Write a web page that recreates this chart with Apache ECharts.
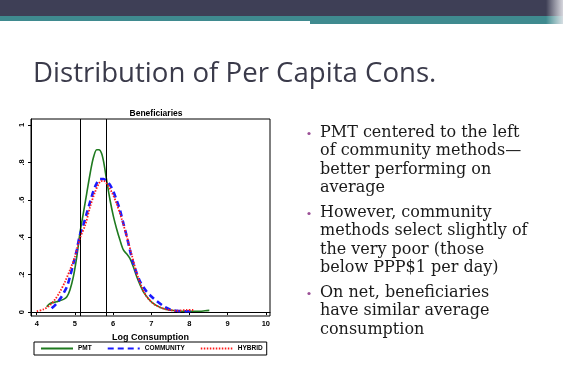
<!DOCTYPE html>
<html>
<head>
<meta charset="utf-8">
<script src="https://cdn.jsdelivr.net/npm/echarts@6/dist/echarts.min.js"></script>
<style>
html,body{margin:0;padding:0;background:#fff;}
#c{width:563px;height:373px;}
</style>
</head>
<body>
<div id="c"></div>
<script>
// ---- data ----
const xTicks = [4, 5, 6, 7, 8, 9, 10];
const yTicks = [0, 0.2, 0.4, 0.6, 0.8, 1];
const povertyLines = [5.13, 5.81];

const pmtX = [4.26,4.35,4.52,4.70,4.79,4.87,4.96,5.05,5.13,5.22,5.31,5.40,5.48,5.57,5.63,5.70,5.76,5.83,5.92,6.01,6.09,6.18,6.27,6.36,6.44,6.53,6.62,6.71,6.79,6.92,7.05,7.23,7.40,7.66,7.93,8.28,8.41,8.52];
const pmtY = [0.029,0.046,0.055,0.068,0.082,0.118,0.189,0.296,0.42,0.528,0.635,0.742,0.822,0.868,0.868,0.848,0.795,0.706,0.599,0.51,0.447,0.385,0.332,0.31,0.287,0.242,0.189,0.144,0.109,0.073,0.046,0.025,0.014,0.007,0.004,0.004,0.007,0.009];

const comX = [4.39,4.52,4.65,4.79,4.87,4.96,5.05,5.13,5.22,5.31,5.40,5.48,5.57,5.66,5.75,5.83,5.92,6.01,6.09,6.18,6.27,6.36,6.44,6.53,6.62,6.71,6.79,6.88,7.01,7.14,7.32,7.49,7.66,7.93,8.10];
const comY = [0.02,0.046,0.082,0.135,0.189,0.26,0.332,0.412,0.465,0.528,0.59,0.643,0.688,0.711,0.711,0.70,0.679,0.643,0.599,0.545,0.474,0.403,0.332,0.26,0.207,0.162,0.135,0.109,0.082,0.059,0.032,0.014,0.007,0.004,0.005];

const hybX = [4.00,4.17,4.35,4.48,4.61,4.74,4.87,5.00,5.13,5.27,5.40,5.53,5.66,5.75,5.83,5.96,6.09,6.22,6.36,6.49,6.62,6.75,6.88,7.05,7.23,7.40,7.66,7.93,8.10];
const hybY = [0.005,0.014,0.037,0.068,0.109,0.162,0.225,0.296,0.394,0.465,0.563,0.643,0.697,0.702,0.688,0.643,0.581,0.501,0.403,0.305,0.207,0.135,0.082,0.046,0.025,0.014,0.007,0.011,0.011];

const seriesNames = ['PMT', 'COMMUNITY', 'HYBRID'];
const slideTitle = 'Distribution of Per Capita Cons.';
const chartTitle = 'Beneficiaries';
const xAxisTitle = 'Log Consumption';
const bullets = [
  ['PMT centered to the left', 'of community methods\u2014', 'better performing on', 'average'],
  ['However, community', 'methods select slightly of', 'the very poor (those', 'below PPP$1 per day)'],
  ['On net, beneficiaries', 'have similar average', 'consumption']
];

function zip(xs, ys) { return xs.map((x, i) => [x, ys[i]]); }

// ---- slide graphics ----
const graphics = [
  { type: 'rect', shape: { x: 0, y: 0, width: 563, height: 16 }, style: { fill: '#3e3f56' } },
  { type: 'rect', shape: { x: 0, y: 16, width: 310, height: 5 }, style: { fill: '#3f8a8f' } },
  { type: 'rect', shape: { x: 310, y: 16, width: 253, height: 8 }, style: { fill: '#3f8a8f' } },
  { type: 'rect', shape: { x: 546, y: 0, width: 17, height: 24 },
    style: { fill: { type: 'linear', x: 0, y: 0, x2: 1, y2: 0,
      colorStops: [{ offset: 0, color: 'rgba(255,255,255,0)' }, { offset: 1, color: 'rgba(230,230,235,0.9)' }] } } },
  { type: 'text', left: 33, top: 60,
    style: { text: slideTitle, font: '27.6px "Open Sans"', fill: '#3a3a4a' } }
];
const bulletTops = [[124.5, 143, 161.5, 180], [204.5, 223, 241.5, 260], [284.5, 303, 321.5]];
bullets.forEach((lines, bi) => {
  graphics.push({ type: 'circle', shape: { cx: 309, cy: bulletTops[bi][0] + 9, r: 1.6 }, style: { fill: '#9b4f96' } });
  lines.forEach((ln, li) => {
    graphics.push({ type: 'text', left: 320, top: bulletTops[bi][li],
      style: { text: ln, font: '16px "DejaVu Serif"', fill: '#1a1a1a' } });
  });
});

const chart = echarts.init(document.getElementById('c'), null, { renderer: 'canvas' });
chart.setOption({
  animation: false,
  backgroundColor: '#fff',
  title: {
    text: chartTitle, left: 151, top: 104, textAlign: 'center',
    textStyle: { fontFamily: 'Liberation Sans', fontSize: 8.5, fontWeight: 'bold', color: '#000' }
  },
  grid: { left: 31, top: 119, width: 239, height: 197, show: true, borderColor: '#000', borderWidth: 1, backgroundColor: '#fff' },
  legend: {
    left: 34, top: 342, padding: [3, 4, 3, 6], itemGap: 15, itemWidth: 32, itemHeight: 8,
    borderColor: '#000', borderWidth: 1, borderRadius: 0,
    itemStyle: { opacity: 0 },
    textStyle: { fontFamily: 'Liberation Sans', fontSize: 6.5, fontWeight: 'bold', color: '#000' },
    data: seriesNames
  },
  xAxis: {
    type: 'value', min: 3.85, max: 10.11,
    name: xAxisTitle, nameLocation: 'middle', nameGap: 12,
    nameTextStyle: { fontFamily: 'Liberation Sans', fontSize: 9, fontWeight: 'bold', color: '#000' },
    axisLine: { show: true, lineStyle: { color: '#000', width: 1 } },
    axisTick: { show: true, length: 3, customValues: xTicks, lineStyle: { color: '#000' } },
    axisLabel: { customValues: xTicks, fontFamily: 'Liberation Sans', fontSize: 7.5, fontWeight: 'bold', color: '#000', margin: 4 },
    splitLine: { show: false }
  },
  yAxis: {
    type: 'value', min: -0.021, max: 1.032,
    axisLine: { show: true, lineStyle: { color: '#000', width: 1 } },
    axisTick: { show: true, length: 3, customValues: yTicks, lineStyle: { color: '#000' } },
    axisLabel: {
      customValues: yTicks, rotate: 90, margin: 5,
      fontFamily: 'Liberation Sans', fontSize: 7.5, fontWeight: 'bold', color: '#000',
      formatter: v => (v === 0 ? '0' : v === 1 ? '1' : String(Math.round(v * 10) / 10).replace(/^0/, ''))
    },
    splitLine: { show: false }
  },
  series: [
    {
      name: seriesNames[0], type: 'line', data: zip(pmtX, pmtY), smooth: 0.3, symbol: 'none',
      lineStyle: { color: '#1f7a1f', width: 1.6 }, itemStyle: { color: '#1f7a1f' }, z: 3,
      markLine: {
        silent: true, symbol: 'none', label: { show: false },
        lineStyle: { color: '#000', width: 1, type: 'solid' },
        data: povertyLines.map(v => ({ xAxis: v }))
      }
    },
    {
      name: seriesNames[1], type: 'line', data: zip(comX, comY), smooth: 0.3, symbol: 'none',
      lineStyle: { color: '#1a1aff', width: 2.6, type: [6, 4] }, itemStyle: { color: '#1a1aff' }, z: 4
    },
    {
      name: seriesNames[2], type: 'line', data: zip(hybX, hybY), smooth: 0.3, symbol: 'none',
      lineStyle: { color: '#ff1a1a', width: 1.8, type: [1.5, 1.5] }, itemStyle: { color: '#ff1a1a' }, z: 5
    }
  ],
  graphic: graphics
});
</script>
</body>
</html>
